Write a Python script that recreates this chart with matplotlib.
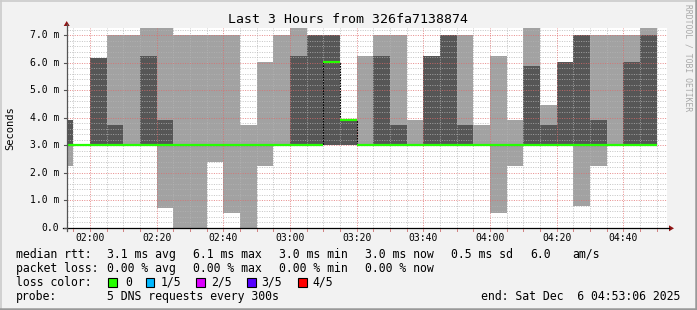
import matplotlib
matplotlib.use("Agg")
import matplotlib.pyplot as plt
from matplotlib.patches import Rectangle, Polygon
import numpy as np

# 5-minute intervals, start times in minutes after midnight (01:50 .. 04:45)
start_min = list(range(110, 290, 5))

# sorted pings per interval (ms); values above the top are clipped by the graph
p1 = [2.26, 3.0, 3.0, 3.0, 3.0, 3.0, 0.71, 0.0, 0.0, 2.40, 0.55, 0.0,
      2.26, 3.0, 3.0, 3.0, 3.0, 3.0, 3.0, 3.0, 3.0, 3.0, 3.0, 3.0,
      3.0, 3.0, 0.55, 2.26, 3.0, 3.0, 3.0, 0.79, 2.26, 3.0, 3.0, 3.0]
p2 = [3.0] * 36
median = [3.0] * 16 + [6.04, 3.92] + [3.0] * 18
p4 = [3.92, 3.0, 6.17, 3.74, 3.0, 6.25, 3.92, 3.0, 3.0, 3.0, 3.0, 3.0,
      3.0, 3.0, 6.25, 7.0, 7.0, 3.92, 3.0, 6.25, 3.74, 3.0, 6.25, 7.0,
      3.74, 3.0, 3.0, 3.0, 5.90, 3.74, 6.04, 7.0, 3.92, 3.0, 6.04, 7.0]
p5 = [3.92, 3.0, 6.17, 7.0, 7.0, 7.5, 7.5, 7.0, 7.0, 7.0, 7.0, 3.74,
      6.04, 7.0, 7.5, 7.0, 7.0, 3.92, 6.25, 7.0, 7.0, 3.92, 6.25, 7.0,
      7.0, 3.74, 6.25, 3.92, 7.5, 4.47, 6.04, 7.0, 7.0, 7.0, 7.0, 7.5]

x_ticks = [120, 140, 160, 180, 200, 220, 240, 260, 280]
x_tick_labels = ["02:00", "02:20", "02:40", "03:00", "03:20", "03:40", "04:00", "04:20", "04:40"]
y_ticks = [0, 1, 2, 3, 4, 5, 6, 7]
y_tick_labels = ["0.0", "1.0 m", "2.0 m", "3.0 m", "4.0 m", "5.0 m", "6.0 m", "7.0 m"]

title = "Last 3 Hours from 326fa7138874"
rtt_stats = ["3.1 ms avg", "6.1 ms max", "3.0 ms min", "3.0 ms now", "0.5 ms sd", "6.0", "am/s"]
loss_stats = ["0.00 % avg", "0.00 % max", "0.00 % min", "0.00 % now"]
loss_labels = ["0", "1/5", "2/5", "3/5", "4/5"]
loss_colors = ["#26ff00", "#00b8ff", "#dd00ff", "#5500ff", "#ff0000"]
probe_text = "5 DNS requests every 300s"
end_text = "end: Sat Dec  6 04:53:06 2025"

W, H = 697, 310
MONO = "DejaVu Sans Mono"
fig = plt.figure(figsize=(W / 100, H / 100), dpi=100, facecolor="#f2f2f2")

# plot canvas in pixel coordinates (image y from top)
cx0, cx1, cy0, cy1 = 67, 667, 28, 227.8
ax = fig.add_axes([cx0 / W, (H - cy1) / H, (cx1 - cx0) / W, (cy1 - cy0) / H])
ax.set_facecolor("white")
ax.set_xlim(113.1, 293.1)
ax.set_ylim(0, 7.265)
for s in ax.spines.values():
    s.set_visible(False)
ax.set_xticks([])
ax.set_yticks([])

edges = start_min + [start_min[-1] + 5]
def ext(a):
    return list(a) + [a[-1]]

ax.fill_between(edges, ext(p1), ext(p5), step="post", color="#a2a2a2", lw=0, zorder=1)
ax.fill_between(edges, ext(p2), ext(p4), step="post", color="#565656", lw=0, zorder=2)

# grid on top of smoke
dot = (0, (1, 1.4))
minor_c, major_c = "#b4b4b4", "#e06a6a"
for v in np.arange(0.2, 7.3, 0.2):
    if abs(v - round(v)) < 1e-6:
        continue
    ax.axhline(v, color=minor_c, lw=0.72, ls=dot, alpha=0.75, zorder=3)
for v in range(1, 8):
    ax.axhline(v, color=major_c, lw=0.72, ls=dot, alpha=0.75, zorder=3)
for t in range(115, 291, 5):
    if t in x_ticks:
        ax.axvline(t, color=major_c, lw=0.72, ls=dot, alpha=0.75, zorder=3)
    else:
        ax.axvline(t, color=minor_c, lw=0.72, ls=dot, alpha=0.75, zorder=3)

# median line: black steps, loss-coloured levels
ax.step(edges, ext(median), where="post", color="black", lw=0.8, ls=(0, (1.5, 1)), zorder=4)
ax.hlines(median, start_min, [s + 5 for s in start_min], color=loss_colors[0], lw=1.6, zorder=5)

# overlay for axes, labels and legend in pixel coordinates
ov = fig.add_axes([0, 0, 1, 1])
ov.set_xlim(0, W)
ov.set_ylim(H, 0)
ov.axis("off")
ov.patch.set_alpha(0)

def px_x(t):
    return cx0 + (t - 113.1) / 180 * (cx1 - cx0)

def px_y(v):
    return cy1 - v / 7.265 * (cy1 - cy0)

# borders
ov.plot([0.5, W - 0.5], [0.5, 0.5], color="#cbcbcb", lw=1.2)
ov.plot([0.5, 0.5], [0.5, H - 0.5], color="#cbcbcb", lw=1.2)
ov.plot([0, W], [H - 1, H - 1], color="#999999", lw=1.8)
ov.plot([W - 1, W - 1], [0, H], color="#999999", lw=1.8)

# axes with arrows
ov.plot([63, 669], [cy1 + 0.5, cy1 + 0.5], color="black", lw=0.9)
ov.plot([66.7, 66.7], [231, 24], color="#555555", lw=0.9)
ov.add_patch(Polygon([[669, 225.3], [669, 231.3], [674, 228.3]], closed=True, color="#901515", lw=0))
ov.add_patch(Polygon([[63.7, 26], [69.7, 26], [66.7, 21]], closed=True, color="#901515", lw=0))

for v, lab in zip(y_ticks, y_tick_labels):
    y = px_y(v)
    ov.plot([63.5, 66.7], [y, y], color="#555555", lw=0.8)
    ov.text(59.5, y, lab, ha="right", va="center", fontsize=7, family=MONO, color="black")
for t in range(115, 291, 5):
    ov.plot([px_x(t), px_x(t)], [cy1 + 1, cy1 + 3], color="#d08080", lw=0.7)
for t, lab in zip(x_ticks, x_tick_labels):
    ov.text(px_x(t), 237.8, lab, ha="center", va="center", fontsize=7, family=MONO, color="black")

ov.text(348, 19.3, title, ha="center", va="center", fontsize=9.5, family=MONO, color="black")
ov.text(10, 128, "Seconds", ha="center", va="center", rotation=90, fontsize=7.5, family=MONO, color="black")
ov.text(688, 58, "RRDTOOL / TOBI OETIKER", ha="center", va="center", rotation=270,
        fontsize=5.8, family=MONO, color="#a8a8a8")

# legend
lf = dict(ha="left", va="center", fontsize=8.3, family=MONO, color="black")
r1, r2, r3, r4 = 254.3, 268.3, 282.3, 296.2
ov.text(16, r1, "median rtt:", **lf)
for x, s in zip([107, 193, 279, 365, 451, 530, 572], rtt_stats):
    ov.text(x, r1, s, **lf)
ov.text(16, r2, "packet loss:", **lf)
for x, s in zip([107, 193, 279, 365], loss_stats):
    ov.text(x, r2, s, **lf)
ov.text(16, r3, "loss color:", **lf)
for xs, xl, c, s in zip([108.3, 145.7, 196, 247.3, 298.3], [125, 160.7, 210.7, 261.7, 312.7],
                        loss_colors, loss_labels):
    ov.add_patch(Rectangle((xs, r3 - 4.6), 8.7, 9.2, facecolor=c, edgecolor="black", lw=0.8))
    ov.text(xl, r3, s, **lf)
ov.text(16, r4, "probe:", **lf)
ov.text(107, r4, probe_text, **lf)
ov.text(680, r4, end_text, ha="right", va="center", fontsize=8.3, family=MONO, color="black")

fig.savefig("out.png", dpi=100, facecolor=fig.get_facecolor())
